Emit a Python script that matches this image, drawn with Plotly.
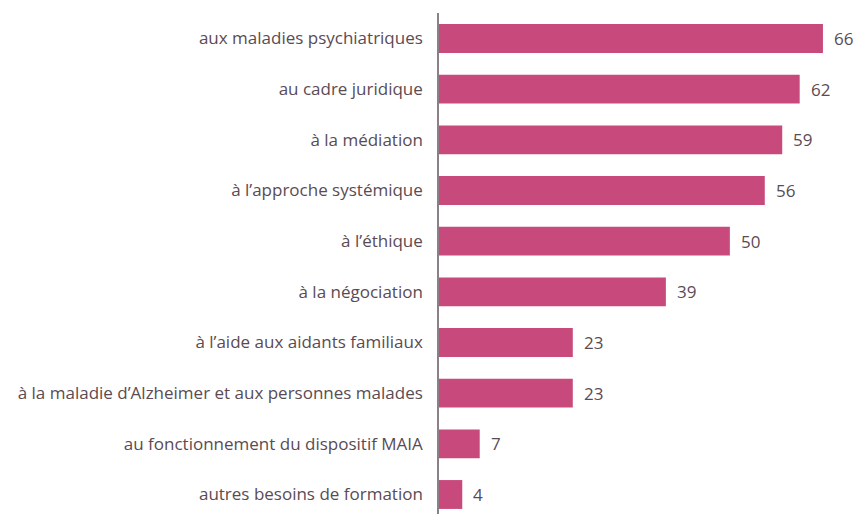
import plotly.graph_objects as go

categories = [
    "aux maladies psychiatriques",
    "au cadre juridique",
    "à la médiation",
    "à l’approche systémique",
    "à l’éthique",
    "à la négociation",
    "à l’aide aux aidants familiaux",
    "à la maladie d’Alzheimer et aux personnes malades",
    "au fonctionnement du dispositif MAIA",
    "autres besoins de formation",
]
values = [66, 62, 59, 56, 50, 39, 23, 23, 7, 4]

BAR_COLOR = "#C84A7D"
TEXT_COLOR = "#5a4b53"
FONT = "Open Sans"

fig = go.Figure(
    go.Bar(
        x=values,
        y=categories,
        orientation="h",
        marker=dict(color=BAR_COLOR, line=dict(width=0)),
        width=0.57,
        hoverinfo="skip",
    )
)

for cat, val in zip(categories, values):
    fig.add_annotation(
        x=val, y=cat, text=str(val), showarrow=False,
        xanchor="left", yanchor="middle", xshift=9,
        font=dict(family=FONT, size=17, color=TEXT_COLOR),
    )

fig.update_layout(
    width=866, height=514,
    margin=dict(l=439, r=0, t=13, b=0),
    paper_bgcolor="white", plot_bgcolor="white",
    showlegend=False,
    font=dict(family=FONT, size=17, color=TEXT_COLOR),
)
fig.update_xaxes(
    range=[0, 73.4], visible=False, showgrid=False, zeroline=False,
)
fig.update_yaxes(
    type="category",
    categoryorder="array", categoryarray=categories,
    range=[9.385, -0.503],
    showgrid=False, zeroline=False,
    showline=True, linecolor="#8b8088", linewidth=1.5,
    ticks="", ticklabelstandoff=11,
    tickfont=dict(family=FONT, size=17, color=TEXT_COLOR),
)

fig.write_html("out.html")
